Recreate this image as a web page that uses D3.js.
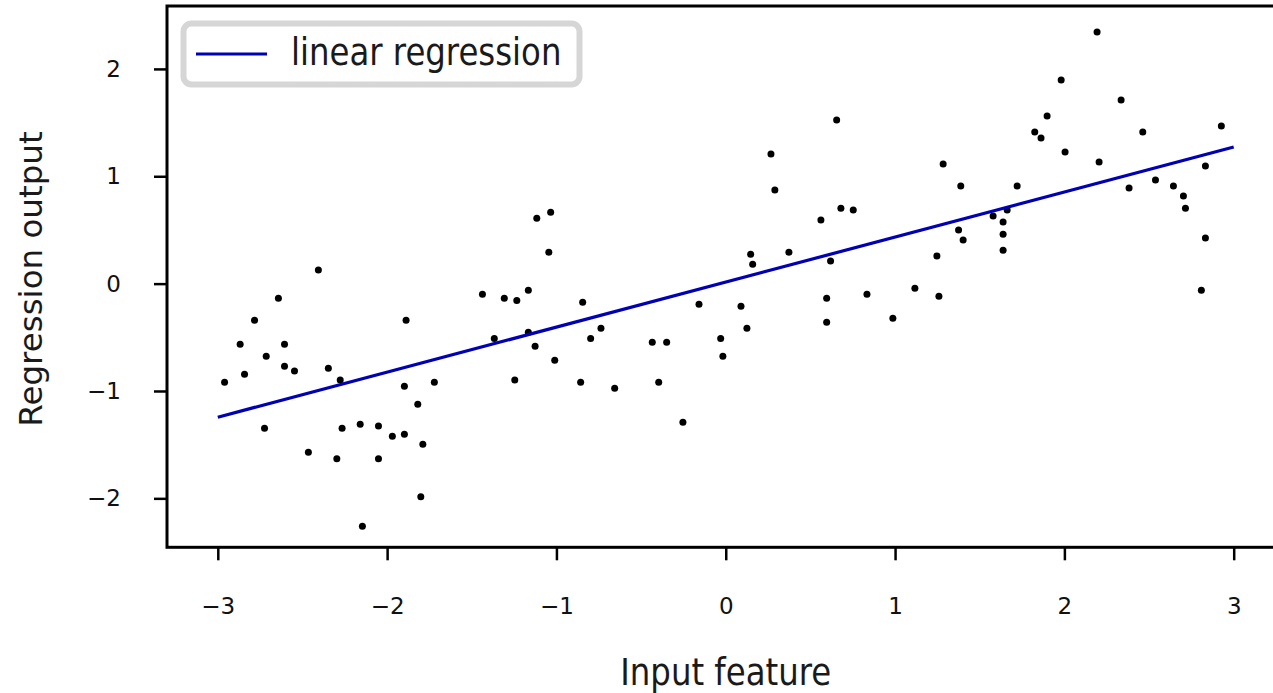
<!DOCTYPE html>
<html>
<head>
<meta charset="utf-8">
<script src="https://cdn.jsdelivr.net/npm/d3@7"></script>
<style>
    body { margin: 0; background: #fff; }
    text { font-family: "DejaVu Sans", sans-serif; }
</style>
</head>
<body>
<div id="chart"></div>
<script>
// Sample points
const xValues = [
    -2.406, -2.642, -2.783, -2.868, -2.606, -2.714, -2.842, -2.606, -2.547, -2.347,
    -2.277, -2.960, -1.888, -1.898, -1.721, -1.819, -2.724, -2.266, -2.159, -2.051,
    -1.969, -1.898, -1.789, -2.465, -2.297, -2.051, -1.801, -2.146, -1.116, -1.034,
    -1.045, -1.437, -1.308, -1.234, -1.166, -0.845, -1.367, -1.166, -1.126, -1.010,
    -0.798, -0.737, -1.246, -0.857, -0.656, -0.434, -0.349, -0.396, -0.253, -0.158,
    -0.030, -0.017, 0.090, 0.125, 0.619, 0.596, 0.596, 0.834, 0.987, 1.117,
    1.259, 0.655, 0.267, 0.290, 0.680, 0.753, 0.562, 0.147, 0.159, 0.373,
    1.247, 1.284, 1.388, 1.579, 1.375, 1.402, 2.193, 1.981, 2.335, 1.898,
    1.825, 1.862, 2.463, 2.927, 2.004, 2.205, 2.833, 1.721, 2.382, 2.538,
    2.644, 2.703, 2.715, 2.833, 1.662, 1.638, 1.638, 1.638, 2.809
];
const yValues = [
    0.127, -0.137, -0.342, -0.565, -0.565, -0.677, -0.845, -0.770, -0.814, -0.789,
    -0.898, -0.919, -0.342, -0.957, -0.919, -1.124, -1.348, -1.348, -1.311, -1.327,
    -1.422, -1.404, -1.497, -1.571, -1.631, -1.631, -1.985, -2.261, 0.608, 0.664,
    0.292, -0.100, -0.137, -0.156, -0.062, -0.174, -0.510, -0.454, -0.584, -0.714,
    -0.510, -0.416, -0.898, -0.919, -0.975, -0.547, -0.547, -0.919, -1.292, -0.193,
    -0.510, -0.677, -0.211, -0.416, 0.211, -0.137, -0.360, -0.100, -0.323, -0.044,
    -0.118, 1.524, 1.207, 0.872, 0.701, 0.686, 0.592, 0.273, 0.180, 0.292,
    0.257, 1.114, 0.909, 0.630, 0.499, 0.406, 2.344, 1.897, 1.710, 1.561,
    1.412, 1.356, 1.412, 1.468, 1.226, 1.133, 1.095, 0.909, 0.891, 0.965,
    0.909, 0.816, 0.701, 0.425, 0.686, 0.574, 0.459, 0.310, -0.062
];

// Fitted line endpoints
const lineX = [-3, 3];
const lineY = [-1.244, 1.273];

const xTicks = [-3, -2, -1, 0, 1, 2, 3];
const yTicks = [-2, -1, 0, 1, 2];
const legendLabel = "linear regression";

const W = 1273, H = 693;
const margin = { top: 6, left: 167 };
const innerW = 1117.5, innerH = 541.3;
const squeeze = 0.875; // the picture's text is a bit narrow

const svg = d3.select("#chart").append("svg")
    .attr("width", W)
    .attr("height", H);

const g = svg.append("g").attr("transform", `translate(${margin.left},${margin.top})`);

const x = d3.scaleLinear().domain([-3.3, 3.3]).range([0, innerW]);
const y = d3.scaleLinear().domain([2.586, -2.456]).range([0, innerH]);

// axes
const xAxis = g.append("g")
    .attr("transform", `translate(0,${innerH})`)
    .call(d3.axisBottom(x).tickValues(xTicks).tickSize(13).tickPadding(37).tickFormat(d3.format("d")));
const yAxis = g.append("g")
    .call(d3.axisLeft(y).tickValues(yTicks).tickSize(13).tickPadding(33).tickFormat(d3.format("d")));

[xAxis, yAxis].forEach((a) => {
    a.select(".domain").remove();
    a.selectAll(".tick line").attr("stroke", "#000").attr("stroke-width", 2.5);
    a.selectAll(".tick text").attr("fill", "#111").style("font-size", "23px");
});

// points
g.append("g")
    .selectAll("circle")
    .data(xValues.map((v, i) => [v, yValues[i]]))
    .join("circle")
    .attr("cx", (d) => x(d[0]))
    .attr("cy", (d) => y(d[1]))
    .attr("r", 3.5)
    .attr("fill", "#000");

// regression line
const line = d3.line().x((d) => x(d[0])).y((d) => y(d[1]));
g.append("path")
    .datum(lineX.map((v, i) => [v, lineY[i]]))
    .attr("d", line)
    .attr("fill", "none")
    .attr("stroke", "#0000b4")
    .attr("stroke-width", 3.2);

// frame
g.append("rect")
    .attr("width", innerW)
    .attr("height", innerH)
    .attr("fill", "none")
    .attr("stroke", "#000")
    .attr("stroke-width", 3);

// legend
const legend = svg.append("g");
legend.append("rect")
    .attr("x", 183.5)
    .attr("y", 23.5)
    .attr("width", 396)
    .attr("height", 61)
    .attr("rx", 8)
    .attr("fill", "#fff")
    .attr("stroke", "#d6d6d6")
    .attr("stroke-width", 6);
legend.append("line")
    .attr("x1", 196).attr("x2", 267)
    .attr("y1", 54).attr("y2", 54)
    .attr("stroke", "#0000b4")
    .attr("stroke-width", 3.2);
legend.append("g")
    .attr("transform", "translate(291,65)")
    .append("text")
    .attr("transform", `scale(${squeeze},1)`)
    .style("font-size", "37px")
    .attr("fill", "#1a1a1a")
    .text(legendLabel);

// axis labels
svg.append("g")
    .attr("transform", `translate(${margin.left + x(0)},685)`)
    .append("text")
    .attr("transform", `scale(${squeeze},1)`)
    .attr("text-anchor", "middle")
    .style("font-size", "37px")
    .attr("fill", "#1a1a1a")
    .text("Input feature");

svg.append("text")
    .attr("transform", `translate(42,279) rotate(-90)`)
    .attr("text-anchor", "middle")
    .style("font-size", "32.5px")
    .attr("fill", "#1a1a1a")
    .text("Regression output");
</script>
</body>
</html>
